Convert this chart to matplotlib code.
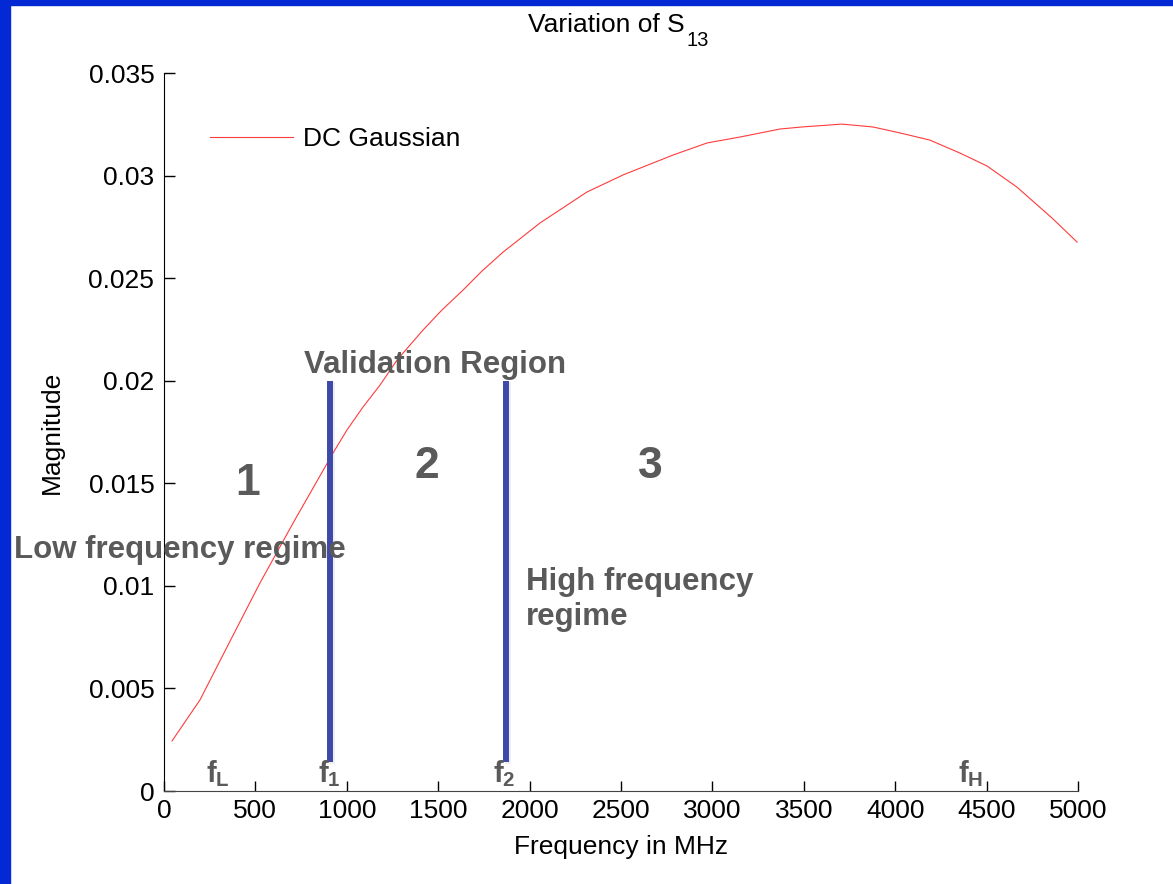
import numpy as np
import matplotlib
matplotlib.use("Agg")
import matplotlib.pyplot as plt
import matplotlib.patheffects as pe
from matplotlib.patches import Rectangle

plt.rcParams['font.family'] = ['Liberation Sans', 'DejaVu Sans']
plt.rcParams['mathtext.fontset'] = 'custom'
plt.rcParams['mathtext.rm'] = 'Liberation Sans'
plt.rcParams['mathtext.it'] = 'Liberation Sans:italic'
plt.rcParams['mathtext.bf'] = 'Liberation Sans:bold'

# Datos
freq = [44, 197, 345, 525, 706, 925, 1001, 1089, 1182, 1275, 1417, 1521, 1636,
        1740, 1855, 2057, 2314, 2511, 2784, 2971, 3151, 3370, 3490, 3709, 3878,
        4026, 4190, 4354, 4502, 4666, 4858, 4995]
mag = [0.00244, 0.00444, 0.00702, 0.01014, 0.01306, 0.01648, 0.0176, 0.01872,
       0.01979, 0.02101, 0.02247, 0.02345, 0.02442, 0.02535, 0.02627, 0.02769,
       0.0292, 0.03003, 0.0310, 0.03159, 0.03188, 0.03227, 0.03237, 0.03251,
       0.03237, 0.03208, 0.03173, 0.0311, 0.03047, 0.02944, 0.02793, 0.02676]

# Fronteras de la region de validacion
bound_freq = [908, 1871]
bound_low, bound_high = 0.0014, 0.02

region_labels = ["1", "2", "3"]
region_x = [460, 1439, 2659]
region_y = [0.01443, 0.01526, 0.01526]

f_labels = [r"$\mathbf{f}_{\mathbf{L}}$", r"$\mathbf{f}_{\mathbf{1}}$",
            r"$\mathbf{f}_{\mathbf{2}}$", r"$\mathbf{f}_{\mathbf{H}}$"]
f_label_x = [230, 842, 1800, 4344]

gray = "#5a5a5a"
blue_line = "#3f49aa"

fig = plt.figure(figsize=(11.73, 8.84), dpi=100)
ax = fig.add_axes([0.1398, 0.1052, 0.7792, 0.8122])

ax.plot(freq, mag, color="#ff3b3b", linewidth=0.8, label="DC Gaussian")

for fb in bound_freq:
    ax.plot([fb, fb], [bound_low, bound_high], color=blue_line, linewidth=4.3,
            solid_capstyle="butt",
            path_effects=[pe.SimpleLineShadow(offset=(1.5, -1), shadow_color="gray", alpha=0.12),
                          pe.Normal()])

ax.set_xlim(0, 5000)
ax.set_ylim(0, 0.035)
ax.set_xticks(np.arange(0, 5001, 500))
ax.set_yticks(np.arange(0, 0.0351, 0.005))
ax.set_yticklabels(["0", "0.005", "0.01", "0.015", "0.02", "0.025", "0.03", "0.035"])

ax.spines["top"].set_visible(False)
ax.spines["right"].set_visible(False)
ax.spines["bottom"].set_color("#444444")
ax.tick_params(axis="both", direction="in", labelsize=19, width=1)
ax.tick_params(axis="y", length=8, pad=7)
ax.tick_params(axis="x", length=7, pad=6)

ax.set_xlabel("Frequency in MHz", fontsize=19)
ax.xaxis.set_label_coords(0.5, -0.061)
ax.set_ylabel("Magnitude", fontsize=19)
ax.yaxis.set_label_coords(-0.109, 0.5)

# Titulo con subindice
fig.text(685 / 1173, 1 - 32 / 884, "Variation of S", fontsize=19,
         ha="right", va="baseline")
fig.text(686 / 1173, 1 - 46 / 884, "13", fontsize=14.5,
         ha="left", va="baseline")

ax.legend(loc="center left", bbox_to_anchor=(0.0503, 0.908), frameon=False,
          fontsize=19, handlelength=3.15, handletextpad=0.38, borderpad=0,
          borderaxespad=0)

# Textos de anotacion
ax.text(1482, 0.02038, "Validation Region", fontsize=22.5, fontweight="bold",
        color=gray, ha="center", va="baseline")
for lab, xx, yy in zip(region_labels, region_x, region_y):
    ax.text(xx, yy, lab, fontsize=32, fontweight="bold", color=gray,
            ha="center", va="baseline")
ax.text(-821, 0.01136, "Low frequency regime", fontsize=22.5, fontweight="bold",
        color=gray, ha="left", va="baseline")
ax.text(1980, 0.0098, "High frequency", fontsize=22.5, fontweight="bold",
        color=gray, ha="left", va="baseline")
ax.text(1980, 0.00809, "regime", fontsize=22.5, fontweight="bold",
        color=gray, ha="left", va="baseline")
for lab, xx in zip(f_labels, f_label_x):
    ax.text(xx, 0.00044, lab, fontsize=21, color=gray, ha="left", va="baseline")

# Borde azul de la diapositiva
fig.patches.append(Rectangle((0, 0), 10 / 1173, 1, transform=fig.transFigure,
                             color="#0329d5", zorder=10))
fig.patches.append(Rectangle((0, 1 - 5 / 884), 1, 5 / 884, transform=fig.transFigure,
                             color="#0329d5", zorder=10))

fig.savefig("out.png", dpi=100)
